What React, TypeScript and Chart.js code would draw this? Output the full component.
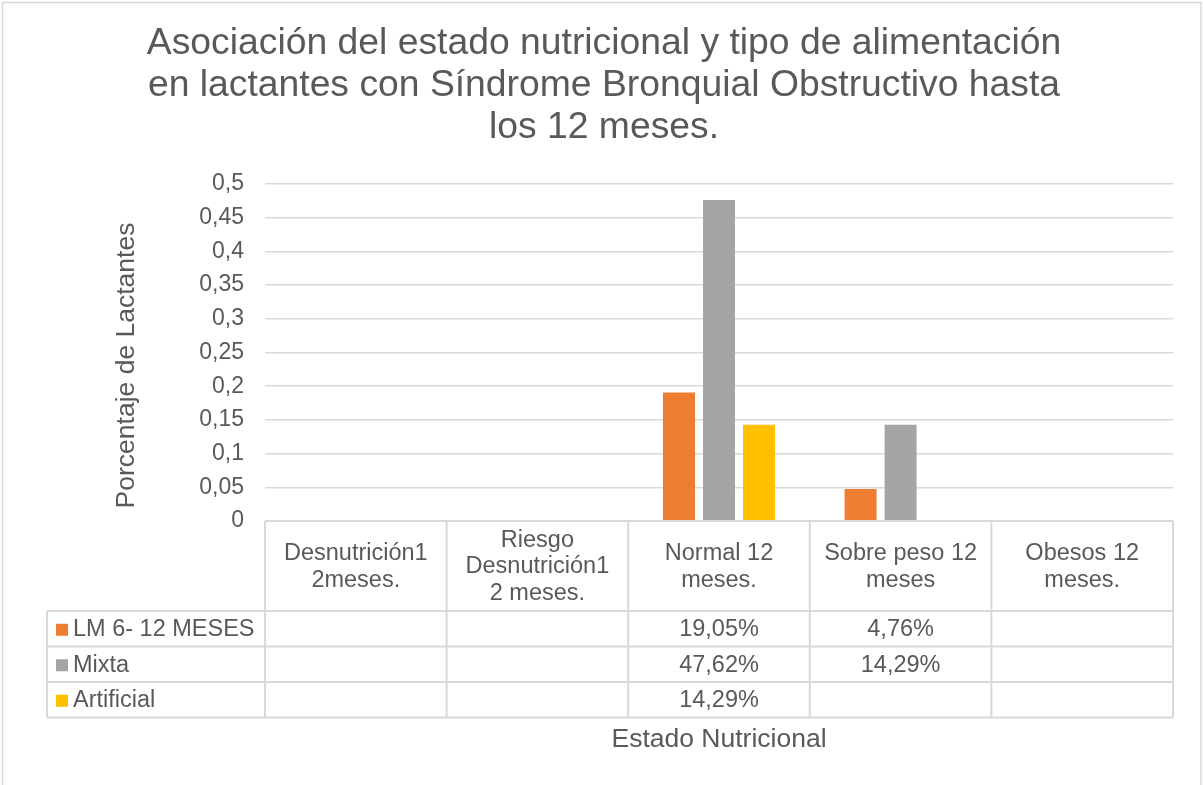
import React, { useEffect, useRef } from 'react';
import { Chart, registerables } from 'chart.js';

Chart.register(...registerables);

const FONT = "'Liberation Sans', Arial, sans-serif";
const TEXT_COLOR = '#595959';
const LINE_COLOR = '#D9D9D9';

const titleLines = [
  'Asociación del estado nutricional y tipo de alimentación',
  'en lactantes con Síndrome Bronquial Obstructivo hasta',
  'los 12 meses.',
];
const yAxisTitle = 'Porcentaje de Lactantes';
const xAxisTitle = 'Estado Nutricional';

const categories: string[][] = [
  ['Desnutrición1', '2meses.'],
  ['Riesgo', 'Desnutrición1', '2 meses.'],
  ['Normal 12', 'meses.'],
  ['Sobre peso 12', 'meses'],
  ['Obesos 12', 'meses.'],
];

const seriesNames = ['LM 6- 12 MESES', 'Mixta', 'Artificial'];
const seriesColors = ['#ED7D31', '#A5A5A5', '#FFC000'];

const lmValues: (number | null)[] = [null, null, 0.1905, 0.0476, null];
const mixtaValues: (number | null)[] = [null, null, 0.4762, 0.1429, null];
const artificialValues: (number | null)[] = [null, null, 0.1429, null, null];

const yMin = 0;
const yMax = 0.5;
const yStep = 0.05;

const fmtTick = (v: number) => String(Math.round(v * 100) / 100).replace('.', ',');
const fmtPct = (v: number) => (v * 100).toFixed(2).replace('.', ',') + '%';

const tablePlugin = {
  id: 'excelDataTable',
  afterDraw(chart: any) {
    const ctx: CanvasRenderingContext2D = chart.ctx;
    const xs = chart.scales.x;
    const area = chart.chartArea;
    const labels = chart.data.labels as string[][];
    const n = labels.length;
    const step = (area.right - area.left) / n;
    const edges: number[] = [];
    for (let i = 0; i < n; i++) edges.push(xs.getPixelForValue(i) - step / 2);
    edges.push(xs.getPixelForValue(n - 1) + step / 2);

    const headerTop = area.bottom;
    const headerH = 90;
    const rowH = 35.5;
    const legendLeft = 47;
    const rowsTop = headerTop + headerH;
    const datasets = chart.data.datasets;
    const bottom = rowsTop + rowH * datasets.length;

    ctx.save();
    ctx.strokeStyle = LINE_COLOR;
    ctx.lineWidth = 1.5;
    // outer chart border
    ctx.strokeRect(2.5, 2.5, chart.width - 4.5, chart.height + 20);

    ctx.lineWidth = 2;
    ctx.beginPath();
    ctx.moveTo(edges[0], headerTop);
    ctx.lineTo(edges[n], headerTop);
    for (let r = 0; r <= datasets.length; r++) {
      const y = rowsTop + r * rowH;
      ctx.moveTo(legendLeft, y);
      ctx.lineTo(edges[n], y);
    }
    ctx.moveTo(legendLeft, rowsTop);
    ctx.lineTo(legendLeft, bottom);
    for (const e of edges) {
      ctx.moveTo(e, headerTop);
      ctx.lineTo(e, bottom);
    }
    ctx.stroke();

    ctx.fillStyle = TEXT_COLOR;
    ctx.font = `23.5px ${FONT}`;
    ctx.textBaseline = 'middle';
    ctx.textAlign = 'center';
    const headerMid = headerTop + headerH / 2 + 1;
    const lh = 26.5;
    labels.forEach((lines, i) => {
      const cx = (edges[i] + edges[i + 1]) / 2;
      lines.forEach((line, j) => {
        ctx.fillText(line, cx, headerMid + (j - (lines.length - 1) / 2) * lh);
      });
    });
    datasets.forEach((ds: any, r: number) => {
      const cy = rowsTop + r * rowH + rowH / 2 + 1;
      ctx.fillStyle = ds.backgroundColor;
      ctx.fillRect(legendLeft + 9, cy - 6, 12, 12);
      ctx.fillStyle = TEXT_COLOR;
      ctx.textAlign = 'left';
      ctx.fillText(ds.label, legendLeft + 26, cy);
      ctx.textAlign = 'center';
      ds.data.forEach((v: number | null, i: number) => {
        if (v === null || v === undefined) return;
        ctx.fillText(fmtPct(v), (edges[i] + edges[i + 1]) / 2, cy);
      });
    });

    // value-axis title (Excel centres it slightly below the plot-area middle)
    ctx.save();
    ctx.font = `26.5px ${FONT}`;
    ctx.fillStyle = TEXT_COLOR;
    ctx.textAlign = 'center';
    ctx.textBaseline = 'middle';
    ctx.translate(127, (area.top + area.bottom) / 2 + 13);
    ctx.rotate(-Math.PI / 2);
    ctx.fillText(yAxisTitle, 0, 0);
    ctx.restore();

    ctx.restore();
  },
};

export default function App() {
  const canvasRef = useRef<HTMLCanvasElement | null>(null);

  useEffect(() => {
    if (!canvasRef.current) return;
    const chart = new Chart(canvasRef.current, {
      type: 'bar',
      data: {
        labels: categories,
        datasets: [
          { label: seriesNames[0], data: lmValues, backgroundColor: seriesColors[0] },
          { label: seriesNames[1], data: mixtaValues, backgroundColor: seriesColors[1] },
          { label: seriesNames[2], data: artificialValues, backgroundColor: seriesColors[2] },
        ],
      },
      options: {
        responsive: false,
        animation: false,
        devicePixelRatio: 1,
        layout: { padding: { left: 35, right: 30, top: 0, bottom: 0 } },
        datasets: {
          bar: { categoryPercentage: 0.661, barPercentage: 0.8, borderWidth: 0 },
        },
        plugins: {
          legend: { display: false },
          tooltip: { enabled: false },
          title: {
            display: true,
            text: titleLines,
            color: TEXT_COLOR,
            font: { family: FONT, size: 37.3, weight: 'normal', lineHeight: 1.126 },
            padding: { top: 23.2, bottom: 34.8 },
          },
        },
        scales: {
          x: {
            ticks: { display: false },
            grid: { display: false },
            border: { display: false },
            title: {
              display: true,
              text: xAxisTitle,
              color: TEXT_COLOR,
              font: { family: FONT, size: 26.5, lineHeight: 1.2 },
              padding: { top: 0, bottom: 29 },
            },
            afterFit(scale: any) {
              scale.height = 264;
            },
          },
          y: {
            min: yMin,
            max: yMax,
            ticks: {
              stepSize: yStep,
              padding: 21,
              color: TEXT_COLOR,
              font: { family: FONT, size: 23 },
              callback: (v: any) => fmtTick(Number(v)),
            },
            grid: { color: LINE_COLOR, lineWidth: 1.5, drawTicks: false },
            border: { display: false },
            title: { display: false, text: yAxisTitle },
            afterFit(scale: any) {
              scale.width = 230;
            },
          },
        },
      },
      plugins: [tablePlugin],
    } as any);
    return () => chart.destroy();
  }, []);

  return (
    <div style={{ position: 'absolute', left: 0, top: 0, width: 1203, height: 785, background: '#fff' }}>
      <canvas ref={canvasRef} width={1203} height={785} style={{ display: 'block' }} />
    </div>
  );
}
